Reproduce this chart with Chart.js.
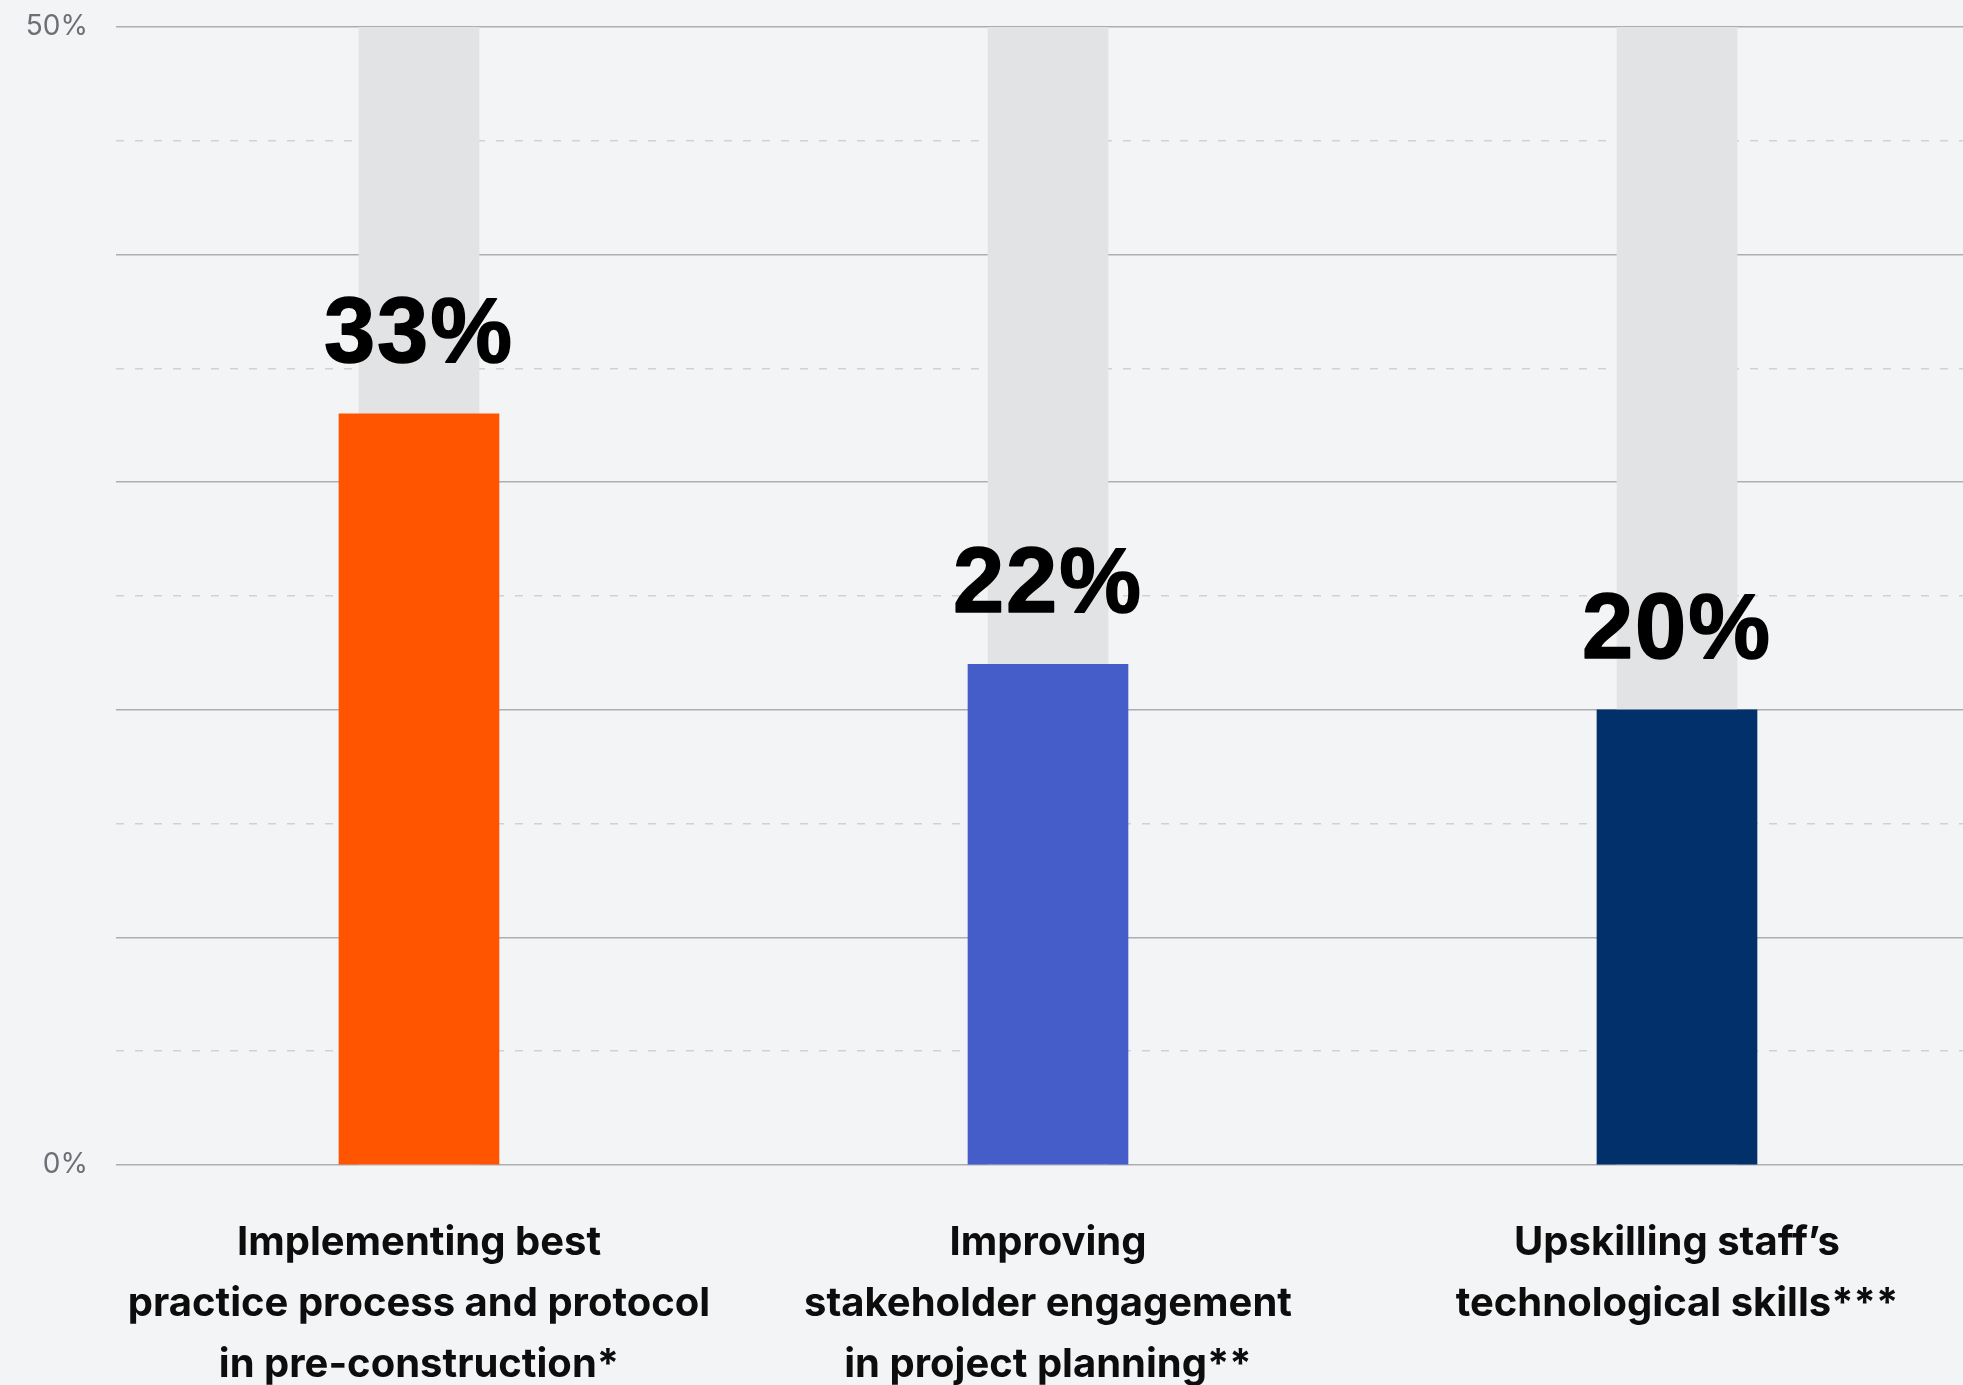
<!DOCTYPE html>
<html>
<head>
<meta charset="utf-8">
<title>Priorities</title>
<script src="https://cdn.jsdelivr.net/npm/chart.js@4.4.1/dist/chart.umd.min.js"></script>
<style>
    html, body { margin: 0; padding: 0; background: #f3f4f6; overflow: hidden; }
    #wrap { width: 1963px; height: 1385px; }
</style>
</head>
<body>
<div id="wrap"><canvas id="prioritiesChart"></canvas></div>
<script>
// categories (multi-line labels), shares in %, and the 0-50 track behind each bar
const categories = [
    ['Implementing best', 'practice process and protocol', 'in pre-construction*'],
    ['Improving', 'stakeholder engagement', 'in project planning**'],
    ['Upskilling staff’s', 'technological skills***']
];
const values = [33, 22, 20];
const trackValues = [50, 50, 50];
const barColors = ['#ff5400', '#455dc8', '#01306b'];
const yTickLabels = { 0: '0%', 50: '50%' };

const positions = categories.map((c, i) => i);

// big percentage labels over each bar
const valueLabels = {
    id: 'valueLabels',
    afterDatasetsDraw(chart) {
        const meta = chart.getDatasetMeta(1);
        const ctx = chart.ctx;
        ctx.save();
        ctx.font = 'bold 92px "Liberation Sans", Arial, sans-serif';
        ctx.letterSpacing = '2px';
        ctx.fillStyle = '#000';
        ctx.strokeStyle = '#000';
        ctx.lineWidth = 1.5;
        ctx.lineJoin = 'round';
        ctx.textAlign = 'center';
        ctx.textBaseline = 'alphabetic';
        meta.data.forEach((bar, i) => {
            const label = values[i] + '%';
            ctx.fillText(label, bar.x, bar.y - 52);
            ctx.strokeText(label, bar.x, bar.y - 52);
        });
        ctx.restore();
    }
};

document.addEventListener('DOMContentLoaded', () => {
    const ctx = document.getElementById('prioritiesChart').getContext('2d');

    new Chart(ctx, {
        type: 'bar',
        data: {
            datasets: [{
                label: 'track',
                data: positions.map(i => ({ x: i, y: trackValues[i] })),
                backgroundColor: '#e2e3e5',
                barThickness: 120,
                grouped: false,
                order: 2
            }, {
                label: 'share',
                data: positions.map(i => ({ x: i, y: values[i] })),
                backgroundColor: barColors,
                barThickness: 160,
                grouped: false,
                order: 1
            }]
        },
        options: {
            responsive: true,
            maintainAspectRatio: false,
            animation: false,
            layout: { padding: { top: 27, right: 0, bottom: 0, left: 0 } },
            plugins: {
                legend: { display: false },
                tooltip: { enabled: false }
            },
            scales: {
                x: {
                    type: 'linear',
                    min: -0.4817,
                    max: 2.4547,
                    offset: false,
                    grid: { display: false, offset: false },
                    border: { display: false },
                    afterFit: scale => { scale.height = 220; },
                    afterBuildTicks: scale => {
                        scale.ticks = positions.map(i => ({ value: i }));
                    },
                    ticks: {
                        autoSkip: false,
                        maxRotation: 0,
                        padding: 40,
                        color: '#0d0d0d',
                        font: { family: 'Inter', size: 40, weight: '700', lineHeight: 1.52 },
                        callback: value => categories[value] || ''
                    }
                },
                y: {
                    min: 0,
                    max: 50,
                    afterFit: scale => {
                        scale.width = 116;
                        // tick padding only pushes labels sideways, not down from the top
                        scale.paddingTop = 17;
                        scale.paddingBottom = 17;
                    },
                    grid: {
                        drawTicks: false,
                        color: c => c.tick && c.tick.value % 10 === 0 ? '#acaeb2' : '#cfd1d5',
                        lineWidth: 1.5
                    },
                    border: {
                        display: false,
                        dash: c => c.tick && c.tick.value % 10 === 0 ? [] : [8, 11]
                    },
                    ticks: {
                        stepSize: 5,
                        padding: 28,
                        color: '#6c6f75',
                        font: { family: 'Inter', size: 28 },
                        callback: value => yTickLabels[value] || ''
                    }
                }
            }
        },
        plugins: [valueLabels]
    });
});
</script>
</body>
</html>
